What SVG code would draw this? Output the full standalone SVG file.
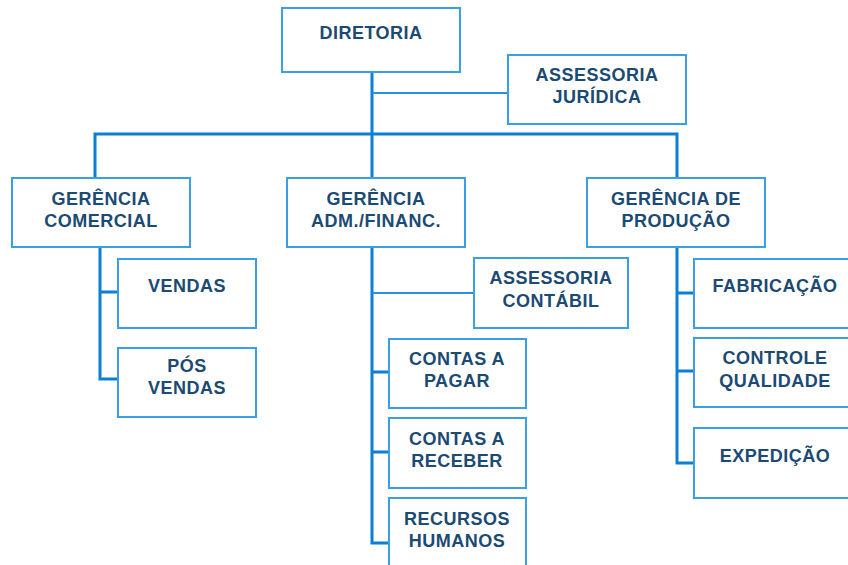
<svg xmlns="http://www.w3.org/2000/svg" width="848" height="565" viewBox="0 0 848 565">
<style>
.bx{fill:#ffffff;stroke:#3a9fe6;stroke-width:2}
.t{font-family:"Liberation Sans",Arial,sans-serif;font-weight:bold;font-size:18px;fill:#1b4a72;text-anchor:middle;letter-spacing:0.5px}
.ln{stroke:#0b7fd6;stroke-width:3;fill:none;stroke-linecap:square}
.th{stroke:#2a90de;stroke-width:2;fill:none}
</style>
<rect width="848" height="565" fill="#ffffff"/>
<g id="connectors">
<path class="ln" d="M372,72 V178 M95,134 H677 M95,134 V178 M677,134 V178"/>
<path class="th" d="M372,93 H508"/>
<path class="ln" d="M100,247 V379 H118 M100,292 H118"/>
<path class="ln" d="M372,247 V543 H389 M372,372 H389 M372,452 H389"/>
<path class="th" d="M372,293 H474"/>
<path class="ln" d="M677,247 V463 H694 M677,293 H694 M677,371 H694"/>
</g>
<g id="diretoria"><rect class="bx" x="282" y="8" width="178" height="64"/><text class="t" x="371" y="39">DIRETORIA</text></g>
<g id="assessoria-juridica"><rect class="bx" x="508" y="55" width="178" height="69"/><text class="t" x="597" y="81">ASSESSORIA</text><text class="t" x="597" y="103">JURÍDICA</text></g>
<g id="gerencia-comercial"><rect class="bx" x="12" y="178" width="178" height="69"/><text class="t" x="101" y="205">GERÊNCIA</text><text class="t" x="101" y="227">COMERCIAL</text></g>
<g id="gerencia-adm"><rect class="bx" x="287" y="178" width="178" height="69"/><text class="t" x="376" y="205">GERÊNCIA</text><text class="t" x="376" y="227">ADM./FINANC.</text></g>
<g id="gerencia-producao"><rect class="bx" x="587" y="178" width="178" height="69"/><text class="t" x="676" y="205">GERÊNCIA DE</text><text class="t" x="676" y="227">PRODUÇÃO</text></g>
<g id="vendas"><rect class="bx" x="118" y="259" width="138" height="69"/><text class="t" x="187" y="292">VENDAS</text></g>
<g id="pos-vendas"><rect class="bx" x="118" y="348" width="138" height="69"/><text class="t" x="187" y="372">PÓS</text><text class="t" x="187" y="394">VENDAS</text></g>
<g id="assessoria-contabil"><rect class="bx" x="474" y="258" width="154" height="70"/><text class="t" x="551" y="284">ASSESSORIA</text><text class="t" x="551" y="307">CONTÁBIL</text></g>
<g id="contas-pagar"><rect class="bx" x="389" y="339" width="137" height="69"/><text class="t" x="457" y="365">CONTAS A</text><text class="t" x="457" y="387">PAGAR</text></g>
<g id="contas-receber"><rect class="bx" x="389" y="418" width="137" height="70"/><text class="t" x="457" y="445">CONTAS A</text><text class="t" x="457" y="467">RECEBER</text></g>
<g id="recursos-humanos"><rect class="bx" x="389" y="498" width="137" height="80"/><text class="t" x="457" y="525">RECURSOS</text><text class="t" x="457" y="547">HUMANOS</text></g>
<g id="fabricacao"><rect class="bx" x="694" y="259" width="162" height="69"/><text class="t" x="775" y="292">FABRICAÇÃO</text></g>
<g id="controle-qualidade"><rect class="bx" x="694" y="338" width="162" height="69"/><text class="t" x="775" y="364">CONTROLE</text><text class="t" x="775" y="387">QUALIDADE</text></g>
<g id="expedicao"><rect class="bx" x="694" y="428" width="162" height="70"/><text class="t" x="775" y="462">EXPEDIÇÃO</text></g>
</svg>
